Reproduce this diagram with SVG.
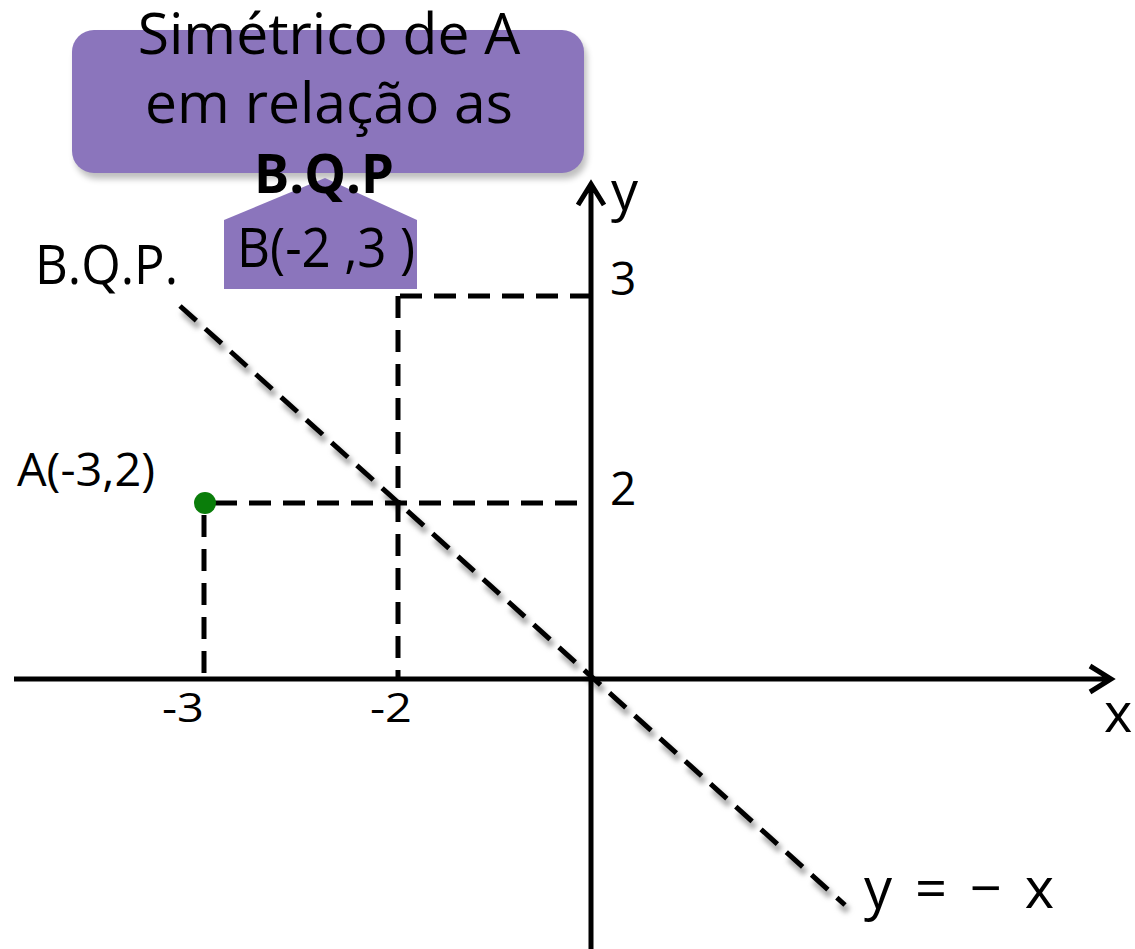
<svg xmlns="http://www.w3.org/2000/svg" width="1135" height="949" viewBox="0 0 1135 949">
<defs>
<style>
.t{font-family:"Open Sans","Noto Sans","DejaVu Sans",sans-serif;fill:#000}
.ax{stroke:#000;stroke-width:5;fill:none}
.ds{stroke:#000;stroke-width:5;stroke-dasharray:22 12;fill:none}
.sh{stroke:#aaa;stroke-width:7;stroke-dasharray:22 12;fill:none;filter:url(#blur)}
</style>
<filter id="blur" x="-10%" y="-10%" width="120%" height="120%"><feGaussianBlur stdDeviation="2.5"/></filter>
<filter id="bshadow" x="-10%" y="-10%" width="120%" height="130%"><feGaussianBlur stdDeviation="3"/></filter>
</defs>
<rect width="1135" height="949" fill="#fff"/>
<g id="connectors">
<g transform="translate(3,6)">
<path class="sh" d="M180,306 L845,905"/>
<path class="sh" d="M400,296 H591"/>
<path class="sh" d="M398,296 V679"/>
<path class="sh" d="M205,503 H591"/>
<path class="sh" d="M204,503 V679"/>
<path d="M14,679 H1110" stroke="#ccc" stroke-width="5" filter="url(#blur)"/>
</g>
<path class="ax" d="M14,679 H1110 M1090,666 L1111,679 L1090,692"/>
<path class="ax" d="M591,949 V184 M578,205 L591,184 L604,205"/>
<path class="ds" d="M180,306 L845,905"/>
<path class="ds" d="M400,296 H591"/>
<path class="ds" d="M398,296 V679"/>
<path class="ds" d="M215,503 H591"/>
<path class="ds" d="M204,515 V679"/>
</g>
<g id="pointA"><circle cx="205" cy="503" r="11" fill="#0a7d0a"/></g>
<g id="labels">
<text class="t" x="17" y="486" font-size="45" textLength="138" lengthAdjust="spacingAndGlyphs">A(-3,2)</text>
<text class="t" x="610" y="505" font-size="46">2</text>
<text class="t" x="610" y="295" font-size="46">3</text>
<text class="t" x="162" y="722" font-size="40" textLength="42" lengthAdjust="spacingAndGlyphs">-3</text>
<text class="t" x="370" y="722" font-size="40" textLength="42" lengthAdjust="spacingAndGlyphs">-2</text>
<text class="t" x="1104" y="732" font-size="54">x</text>
<text class="t" x="611" y="210" font-size="54">y</text>
<text class="t" x="864" y="908" font-size="56" textLength="190" lengthAdjust="spacing">y = − x</text>
<text class="t" x="35" y="284" font-size="54" textLength="143" lengthAdjust="spacingAndGlyphs">B.Q.P.</text>
</g>
<g id="callout">
<rect x="75" y="36" width="512" height="143" rx="22" fill="#000" opacity="0.25" filter="url(#bshadow)"/>
<rect x="72" y="30" width="512" height="143" rx="22" fill="#8b75bc"/>
<text class="t" x="329" y="54" font-size="57" text-anchor="middle">Simétrico de A</text>
<text class="t" x="329" y="123" font-size="57" text-anchor="middle">em relação as</text>
</g>
<g id="pointB">
<polygon points="224,220 325,178 417,220 417,289 224,289" fill="#8b75bc"/>
<text class="t" x="237" y="267" font-size="54" textLength="178" lengthAdjust="spacingAndGlyphs">B(-2 ,3 )</text>
</g>
<g id="callout-title">
<text class="t" x="254" y="193" font-size="53" font-weight="bold" textLength="140" lengthAdjust="spacingAndGlyphs">B.Q.P</text>
</g>
</svg>
